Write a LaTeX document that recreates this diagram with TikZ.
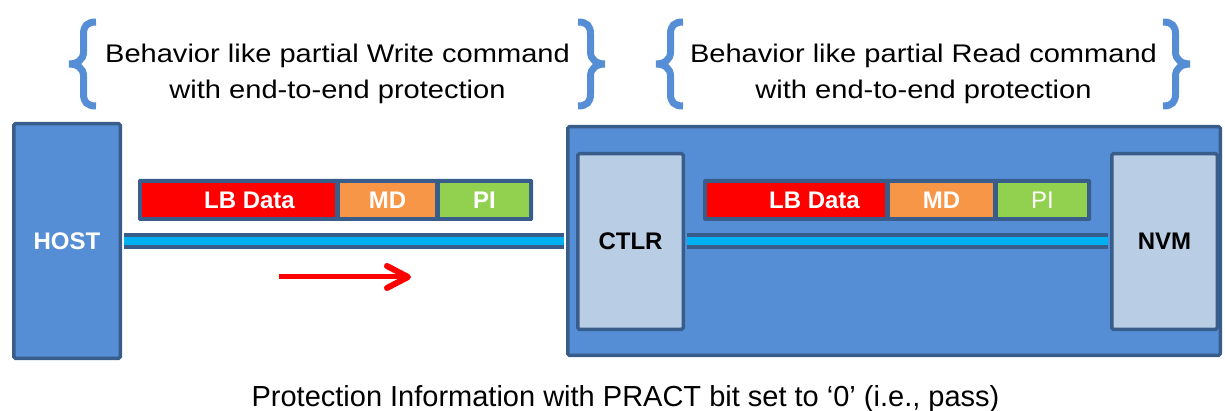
\documentclass[tikz,border=0pt]{standalone}
\usepackage{fontspec}
\setmainfont{Liberation Sans}
\newfontfamily\widefont[FakeStretch=1.14]{Liberation Sans}
\definecolor{bord}{HTML}{385D8A}
\definecolor{boxblue}{HTML}{558ED5}
\definecolor{lightbox}{HTML}{B9CDE5}
\definecolor{buscyan}{HTML}{00B0F0}
\definecolor{segred}{HTML}{FF0000}
\definecolor{segorange}{HTML}{F79646}
\definecolor{seggreen}{HTML}{92D050}
\definecolor{bracecol}{HTML}{558ED5}
\tikzset{
  box/.style={draw=bord, line width=3.5pt, rounded corners=1.5pt, inner sep=0pt},
  boxlabel/.style={font=\fontsize{24}{28}\selectfont\bfseries},
  packet/.style={fill=bord, rounded corners=1.5pt, inner sep=0pt, minimum height=42pt},
  seg/.style={inner sep=0pt, minimum height=34pt},
  segtext/.style={inner sep=0pt, text=white, font=\fontsize{24}{28}\selectfont\bfseries},
  busout/.style={draw=bord, line width=16pt, shorten <=1.75pt, shorten >=1.75pt},
  busin/.style={draw=buscyan, line width=8pt, shorten <=1.75pt, shorten >=1.75pt},
  toptext/.style={inner sep=0pt, align=center, anchor=base,
    font=\widefont\fontsize{25.5}{35.5}\selectfont},
  cbrace/.pic={
    \draw[bracecol, line width=7pt, line join=miter]
      (27,-42) .. controls (18,-42) and (14.5,-38) .. (14.5,-30) -- (14.5,-12)
      .. controls (14.5,-4) and (8,0) .. (0,0)
      .. controls (8,0) and (14.5,4) .. (14.5,12) -- (14.5,30)
      .. controls (14.5,38) and (18,42) .. (27,42);
  }
}
\begin{document}
\begin{tikzpicture}[x=1pt,y=-1pt]
\useasboundingbox (0,0) rectangle (1225,411);

% boxes
\node[box, fill=boxblue, minimum width=652.5pt, minimum height=228.5pt] (big) at (894,241) {};
\node[box, fill=boxblue, minimum width=106.5pt, minimum height=234.5pt, text=white, boxlabel] (host) at (67,241) {HOST};
\node[box, fill=lightbox, minimum width=105.5pt, minimum height=175.5pt, boxlabel] (ctlr) at (630.5,241.5) {CTLR};
\node[box, fill=lightbox, minimum width=105.5pt, minimum height=175.5pt, boxlabel] (nvm) at (1164.5,241.5) {NVM};

% buses
\draw[busout] (host.east) -- (big.west);
\draw[busin] (host.east) -- (big.west);
\draw[busout] (ctlr.east) -- (nvm.west);
\draw[busin] (ctlr.east) -- (nvm.west);

% left packet
\node[packet, minimum width=395pt] (pk1) at (335.5,200) {};
\node[seg, fill=segred, minimum width=193pt] (r1) at (238.5,200) {};
\node[seg, fill=segorange, minimum width=95pt] (o1) at (387.5,200) {};
\node[seg, fill=seggreen, minimum width=89pt] (g1) at (484.5,200) {};
\node[segtext] (r1t) at (249.5,200.5) {LB Data};
\node[segtext] (o1t) at (o1) {MD};
\node[segtext] (g1t) at (g1) {PI};

% right packet
\node[packet, minimum width=388pt] (pk2) at (897,200) {};
\node[seg, fill=segred, minimum width=178pt] (r2) at (796,200) {};
\node[seg, fill=segorange, minimum width=103pt] (o2) at (941.5,200) {};
\node[seg, fill=seggreen, minimum width=89pt] (g2) at (1042.5,200) {};
\node[segtext] (r2t) at (814.5,200.5) {LB Data};
\node[segtext] (o2t) at (o2) {MD};
\node[segtext, font=\fontsize{24}{28}\selectfont] (g2t) at (g2) {PI};

% arrow
\coordinate (a1) at (279,277);
\coordinate (a2) at (408,277);
\coordinate (h1) at (387,266);
\coordinate (h2) at (387,288);
\draw[segred, line width=5pt] (a1) -- (a2);
\draw[segred, line width=6pt, line cap=round, line join=round] (h1) -- (a2) -- (h2);

% braces
\pic at (69,64) {cbrace};
\pic[xscale=-1] at (605,64) {cbrace};
\pic at (656,64) {cbrace};
\pic[xscale=-1] at (1190,64) {cbrace};

% texts (base anchor = last line's baseline)
\node[toptext] (t1) at (337.5,98.5) {Behavior like partial Write command\\with end-to-end protection};
\node[toptext] (t2) at (923.5,98.5) {Behavior like partial Read command\\with end-to-end protection};
\node[inner sep=0pt, anchor=base, font=\fontsize{29}{34}\selectfont] (bt) at (625.5,406.5) {Protection Information with PRACT bit set to ‘0’ (i.e., pass)};
\end{tikzpicture}
\end{document}
